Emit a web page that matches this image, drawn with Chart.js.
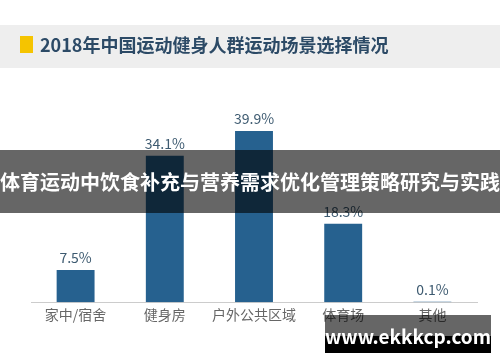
<!DOCTYPE html>
<html>
<head>
<meta charset="utf-8">
<script src="https://cdn.jsdelivr.net/npm/chart.js@4.4.0/dist/chart.umd.min.js"></script>
<style>
  html, body { margin: 0; padding: 0; background: #fff; }
  #wrap { width: 500px; height: 362px; position: relative; }
</style>
</head>
<body>
<div id="wrap"><canvas id="chart" width="500" height="362"></canvas></div>
<script>
const categories = ["家中/宿舍", "健身房", "户外公共区域", "体育场", "其他"];
const shares = [7.5, 34.1, 39.9, 18.3, 0.1];
const chartTitle = "2018年中国运动健身人群运动场景选择情况";
const bannerText = "体育运动中饮食补充与营养需求优化管理策略研究与实践";
const siteText = "www.ekkkcp.com";

const cjk = '"Noto Sans CJK SC", "Noto Sans", sans-serif';

// grey title band with the yellow marker
const titleBand = {
    id: "titleBand",
    beforeDraw(chart) {
        const ctx = chart.ctx;
        ctx.save();
        ctx.fillStyle = "#ffffff";
        ctx.fillRect(0, 0, chart.width, chart.height);
        ctx.fillStyle = "#eeeeee";
        ctx.fillRect(0, 25, chart.width, 43);
        ctx.fillStyle = "#f5c400";
        ctx.fillRect(20, 36, 13, 17);
        ctx.fillStyle = "#2c4a66";
        ctx.font = "bold 18px " + cjk;
        ctx.textBaseline = "middle";
        ctx.fillText(chartTitle, 40, 45);
        ctx.restore();
    }
};

// value labels above the bars, then the dark banner and the site tag
const overlays = {
    id: "overlays",
    afterDraw(chart) {
        const ctx = chart.ctx;
        const meta = chart.getDatasetMeta(0);
        ctx.save();
        ctx.font = "14px " + cjk;
        ctx.fillStyle = "#3d5a70";
        ctx.textAlign = "center";
        ctx.textBaseline = "bottom";
        meta.data.forEach((bar, i) => {
            ctx.fillText(shares[i].toFixed(1) + "%", bar.x, bar.y - 5);
        });

        ctx.fillStyle = "rgba(0,0,0,0.6)";
        ctx.fillRect(0, 150, chart.width, 63);
        ctx.fillStyle = "#ffffff";
        ctx.font = "bold 20px " + cjk;
        ctx.textBaseline = "middle";
        ctx.fillText(bannerText, chart.width / 2, 182);

        ctx.fillStyle = "rgba(0,0,0,0.6)";
        ctx.fillRect(325, 315, 166, 21);
        ctx.fillStyle = "#000000";
        ctx.fillRect(325, 336, 166, 17);
        ctx.fillStyle = "#ffffff";
        ctx.font = "bold 19px " + cjk;
        ctx.fillText(siteText, 408, 337);
        ctx.restore();
    }
};

new Chart(document.getElementById("chart"), {
    type: "bar",
    data: {
        labels: categories,
        datasets: [{
            data: shares,
            backgroundColor: "#26618f",
            barPercentage: 0.85,
            categoryPercentage: 0.5
        }]
    },
    options: {
        responsive: false,
        animation: false,
        layout: { padding: { top: 109, left: 31, right: 23, bottom: 35 } },
        plugins: {
            legend: { display: false },
            tooltip: { enabled: false }
        },
        scales: {
            x: {
                grid: { display: false, drawTicks: false },
                border: { color: "#cccccc", width: 1 },
                ticks: {
                    color: "#666666",
                    font: { size: 14, family: cjk },
                    padding: 4,
                    maxRotation: 0,
                    minRotation: 0,
                    autoSkip: false
                }
            },
            y: {
                display: false,
                min: 0,
                max: 45
            }
        }
    },
    plugins: [titleBand, overlays]
});
</script>
</body>
</html>
